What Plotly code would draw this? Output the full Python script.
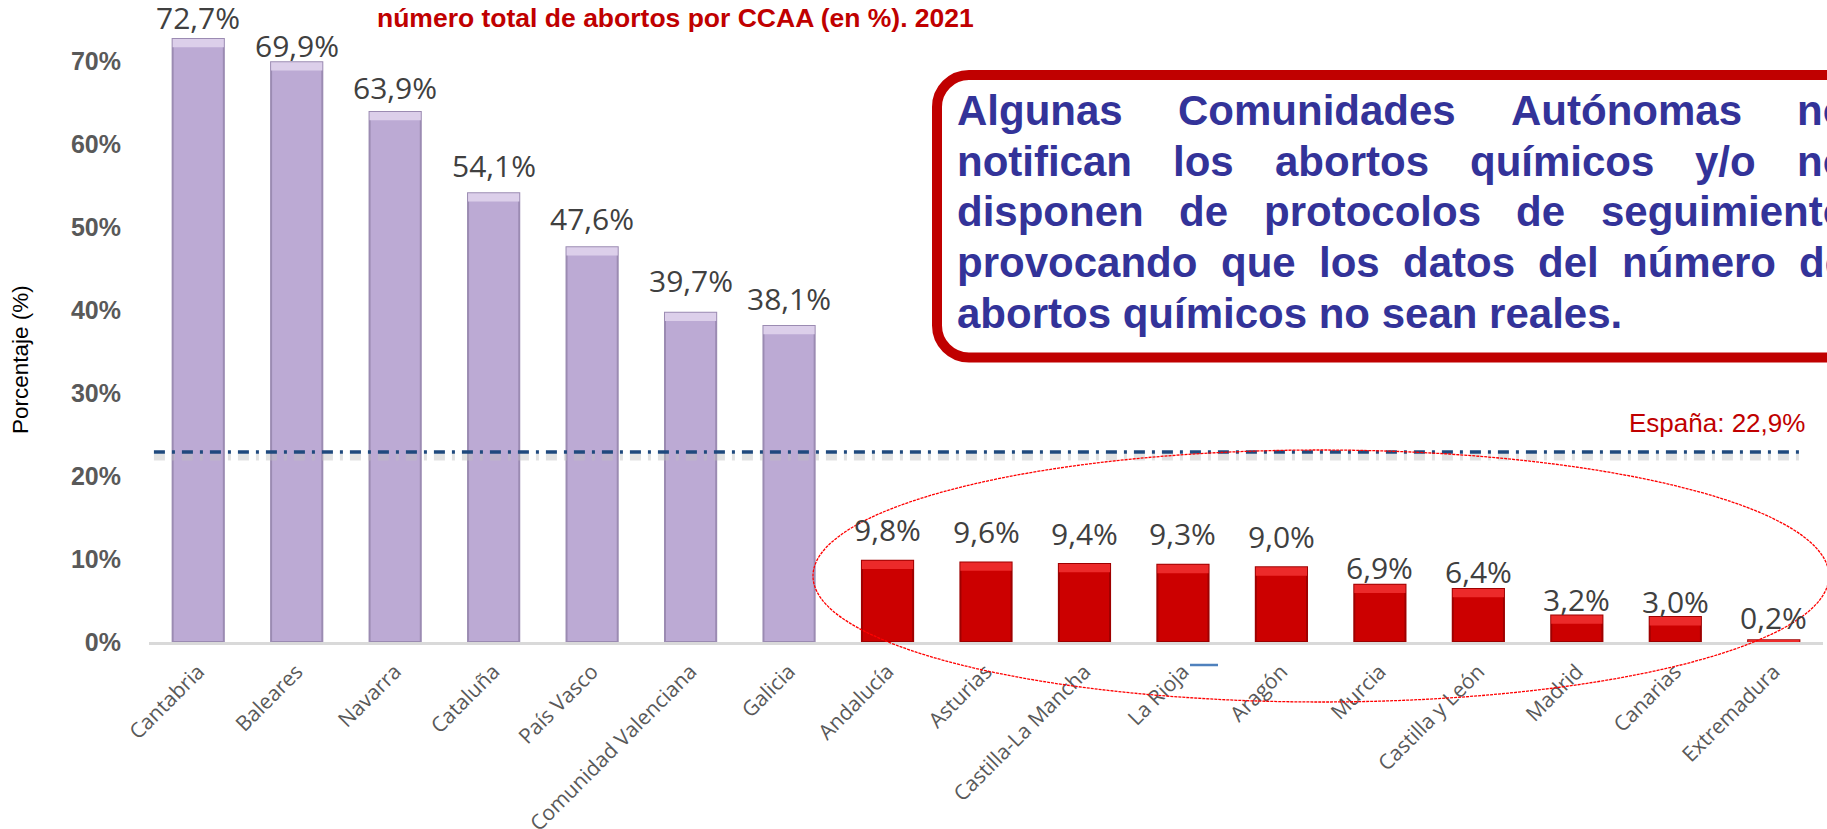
import plotly.graph_objects as go

# ---- data -------------------------------------------------------------
regions = [
    "Cantabria", "Baleares", "Navarra", "Cataluña", "País Vasco",
    "Comunidad Valenciana", "Galicia", "Andalucía", "Asturias",
    "Castilla-La Mancha", "La Rioja", "Aragón", "Murcia",
    "Castilla y León", "Madrid", "Canarias", "Extremadura",
]
pct = [72.7, 69.9, 63.9, 54.1, 47.6, 39.7, 38.1, 9.8, 9.6, 9.4, 9.3,
       9.0, 6.9, 6.4, 3.2, 3.0, 0.2]
espana = 22.9
y_ticks = [0, 10, 20, 30, 40, 50, 60, 70]
y_tick_text = ["0%", "10%", "20%", "30%", "40%", "50%", "60%", "70%"]

# vertical lift (px) of each value label above its bar
label_lift = [22, 17, 25, 28, 29, 32, 28, 31, 31, 31, 31, 31, 17, 17, 16, 16, 23]

# ---- geometry helpers (figure pixels -> paper units) -------------------
W, H = 1827, 829
L, R, T, B = 149, 1823, 20, 642


def fx(p):
    return (p - L) / (R - L)


def fy(p):
    return (B - p) / (B - T)


PURPLE, PURPLE_EDGE, PURPLE_TOP = "#BCAAD4", "#9B8BB2", "#DCCFEA"
RED, RED_EDGE, RED_TOP = "#CC0000", "#9E0000", "#EC2A2A"

above = [v > espana for v in pct]
fill = [PURPLE if a else RED for a in above]
edge = [PURPLE_EDGE if a else RED_EDGE for a in above]
top = [PURPLE_TOP if a else RED_TOP for a in above]
bevel = [min(1.0, v) for v in pct]

fig = go.Figure()
fig.add_trace(go.Bar(
    x=regions, y=pct,
    marker=dict(color=fill, line=dict(color=edge, width=2)),
    hoverinfo="x+y",
))
fig.add_trace(go.Bar(
    x=regions, y=bevel, base=[v - b for v, b in zip(pct, bevel)],
    marker=dict(color=top, line=dict(width=0)),
    hoverinfo="skip",
))

annotations = []

# value labels
for name, v, lift in zip(regions, pct, label_lift):
    annotations.append(dict(
        x=name, y=v, xref="x", yref="y", yanchor="middle", yshift=lift,
        text=f"{v:.1f}".replace(".", ",") + "%", showarrow=False,
        font=dict(family="Open Sans", size=30, color="#404040"),
    ))

# chart title (second line)
annotations.append(dict(
    x=fx(675), y=fy(18.5), xref="paper", yref="paper",
    xanchor="center", yanchor="middle", showarrow=False,
    text="número total de abortos por CCAA (en %). 2021",
    font=dict(family="Liberation Sans", size=26.5, color="#C00000", weight="bold"),
))

# y-axis title
annotations.append(dict(
    x=fx(20), y=fy(360), xref="paper", yref="paper",
    xanchor="center", yanchor="middle", showarrow=False, textangle=-90,
    text="Porcentaje (%)",
    font=dict(family="Liberation Sans", size=22.5, color="#000000"),
))

# national average label
annotations.append(dict(
    x=fx(1807), y=fy(423), xref="paper", yref="paper",
    xanchor="right", yanchor="middle", showarrow=False,
    text=f"España: {espana:.1f}".replace(".", ",") + "%",
    font=dict(family="Liberation Sans", size=26, color="#C00000"),
))

# ---- justified note inside the red box ---------------------------------
NOTE_SIZE = 42
ARIAL_BOLD = {
    "a": 556, "b": 611, "c": 556, "d": 611, "e": 556, "f": 333, "g": 611,
    "h": 611, "i": 278, "j": 278, "k": 556, "l": 278, "m": 889, "n": 611,
    "o": 611, "p": 611, "q": 611, "r": 389, "s": 556, "t": 333, "u": 611,
    "v": 556, "w": 778, "x": 556, "y": 556, "z": 500, "A": 722, "C": 722,
    "/": 278, ".": 278, " ": 278, "í": 278, "ó": 611, "ú": 611, "é": 556,
    "á": 556,
}


def word_px(word):
    return sum(ARIAL_BOLD.get(ch, 556) for ch in word) / 1000 * NOTE_SIZE


note_lines = [
    ["Algunas", "Comunidades", "Autónomas", "no"],
    ["notifican", "los", "abortos", "químicos", "y/o", "no"],
    ["disponen", "de", "protocolos", "de", "seguimiento"],
    ["provocando", "que", "los", "datos", "del", "número", "de"],
]
note_last = "abortos químicos no sean reales."
note_left, note_right = 956, 1847
baselines = [125, 175.75, 226.5, 277.25, 328]
mid_off = 0.3465 * NOTE_SIZE
note_font = dict(family="Liberation Sans", size=NOTE_SIZE, color="#333399",
                 weight="bold")

for words, base in zip(note_lines, baselines):
    widths = [word_px(w) for w in words]
    gap = (note_right - note_left - sum(widths)) / (len(words) - 1)
    x = note_left
    for w, wd in zip(words, widths):
        annotations.append(dict(
            x=fx(x), y=fy(base - mid_off), xref="paper", yref="paper",
            xanchor="left", yanchor="middle", showarrow=False, text=w,
            font=note_font, borderpad=0,
        ))
        x += wd + gap
annotations.append(dict(
    x=fx(note_left), y=fy(baselines[-1] - mid_off), xref="paper", yref="paper",
    xanchor="left", yanchor="middle", showarrow=False, text=note_last,
    font=note_font, borderpad=0,
))

# ---- shapes ------------------------------------------------------------


def P(x, y):
    return f"{fx(x):.5f},{fy(y):.5f}"


bl, bt, bb, br, rad = 937, 75, 357.5, 1870, 32
k = 0.5523 * rad
box_path = (
    f"M {P(br, bt)} L {P(bl + rad, bt)} "
    f"C {P(bl + rad - k, bt)} {P(bl, bt + rad - k)} {P(bl, bt + rad)} "
    f"L {P(bl, bb - rad)} "
    f"C {P(bl, bb - rad + k)} {P(bl + rad - k, bb)} {P(bl + rad, bb)} "
    f"L {P(br, bb)} Z"
)

dashdot = "11px,7px,3px,7px"
shapes = [
    # soft shadow under the national average line
    dict(type="line", xref="x", yref="y", ysizemode="pixel", yanchor=espana,
         x0=-0.45, x1=16.27, y0=-5, y1=-5, layer="above",
         line=dict(color="rgba(190,190,190,0.45)", width=7, dash=dashdot)),
    # national average line
    dict(type="line", xref="x", yref="y", x0=-0.45, x1=16.27,
         y0=espana, y1=espana, layer="above",
         line=dict(color="#1F497D", width=3.5, dash=dashdot)),
    # ellipse around the low-percentage regions
    dict(type="circle", xref="paper", yref="paper",
         x0=fx(813), x1=fx(1829), y0=fy(702), y1=fy(450), layer="above",
         line=dict(color="#FF0000", width=1.3, dash="3px,1px")),
    # note box
    dict(type="path", xref="paper", yref="paper", path=box_path,
         fillcolor="white", layer="above",
         line=dict(color="#C00000", width=10)),
    # small legend key stray mark
    dict(type="line", xref="paper", yref="paper",
         x0=fx(1190), x1=fx(1218), y0=fy(665), y1=fy(665), layer="above",
         line=dict(color="#4F81BD", width=2.5)),
]

fig.update_layout(
    width=W, height=H,
    margin=dict(l=L, r=W - R, t=T, b=H - B, pad=0, autoexpand=False),
    paper_bgcolor="white", plot_bgcolor="white",
    showlegend=False, barmode="overlay", bargap=0.48,
    annotations=annotations, shapes=shapes,
    xaxis=dict(
        type="category", tickangle=-45, ticks="", showgrid=False,
        showline=True, linecolor="#D9D9D9", linewidth=3, automargin=False,
        tickfont=dict(family="Open Sans", size=21, color="#595959"),
        ticklabelstandoff=6,
    ),
    yaxis=dict(
        range=[0, 75], tickvals=y_ticks, ticktext=y_tick_text,
        showgrid=False, zeroline=False, showline=False, ticks="",
        automargin=False,
        tickfont=dict(family="Liberation Sans", size=25, color="#595959",
                      weight="bold"),
        ticklabelstandoff=27,
    ),
)

fig.write_html("out.html")
